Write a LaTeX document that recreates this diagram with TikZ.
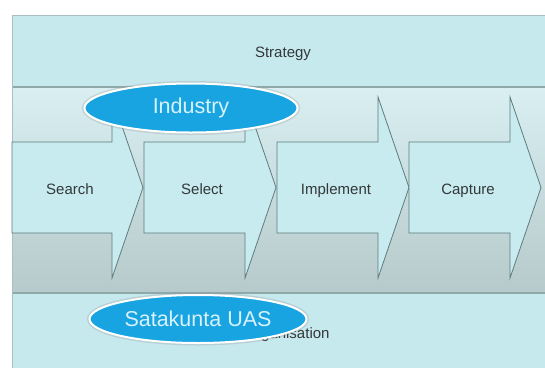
\documentclass[tikz,border=0pt]{standalone}
\usepackage{fontspec}
\setmainfont{Liberation Sans}
\usetikzlibrary{shapes.geometric}
\definecolor{bandc}{HTML}{C6E9EE}
\definecolor{midtop}{HTML}{D9EFF1}
\definecolor{midbot}{HTML}{B6C9CB}
\definecolor{arrowc}{HTML}{C8EBEF}
\definecolor{linec}{HTML}{5F7B7D}
\definecolor{sepc}{HTML}{8FA9AB}
\definecolor{borderc}{HTML}{A9BFC2}
\definecolor{ellc}{HTML}{18A3E1}
\definecolor{elltext}{HTML}{D8F2FC}
\definecolor{txtc}{HTML}{333839}
\tikzset{
  arrowshape/.style={fill=arrowc, draw=linec, line width=0.8pt, line join=miter},
  lbl/.style={text=txtc, font=\fontsize{15}{17}\selectfont, inner sep=1pt},
  ell/.style={ellipse, fill=ellc, draw=white, line width=2pt, text=elltext,
    font=\fontsize{21.5}{24}\selectfont, inner sep=0pt,
    preaction={draw=black!40, line width=5pt, opacity=0.3}},
}
\begin{document}
\begin{tikzpicture}[x=1pt,y=-1pt]
\useasboundingbox (0,0) rectangle (545,368);
\fill[white] (0,0) rectangle (545,368);
% bands
\fill[bandc] (12,15) rectangle (545,87);
\shade[top color=midtop,bottom color=midbot] (12,87) rectangle (545,293);
\fill[bandc] (12,293) rectangle (545,368);
\draw[sepc, line width=1.2pt] (12,87) -- (545,87);
\draw[sepc, line width=1.2pt] (12,293) -- (545,293);
\draw[borderc, line width=1pt] (12,368) -- (12,15) -- (545,15);
% band labels
\node[lbl, anchor=base] (strategy) at (283,57) {Strategy};
\node[lbl, anchor=base] (organisation) at (287,338) {Organisation};
% process arrows
\foreach \L/\R in {12/112,144/245,277/378,409/510}
  \draw[arrowshape] (\L,142) -- (\R,142) -- (\R,97) -- (\R+31,187.5) -- (\R,278) -- (\R,233) -- (\L,233) -- cycle;
\node[lbl, anchor=base] (search) at (70,194) {Search};
\node[lbl, anchor=base] (select) at (202,194) {Select};
\node[lbl, anchor=base] (implement) at (336,194) {Implement};
\node[lbl, anchor=base] (capture) at (468,194) {Capture};
% ellipses
\node[ell, minimum width=213pt, minimum height=49pt] (industry) at (191,108) {Industry};
\node[ell, minimum width=217pt, minimum height=48pt] (satakunta) at (198,319) {Satakunta UAS};
\end{tikzpicture}
\end{document}
